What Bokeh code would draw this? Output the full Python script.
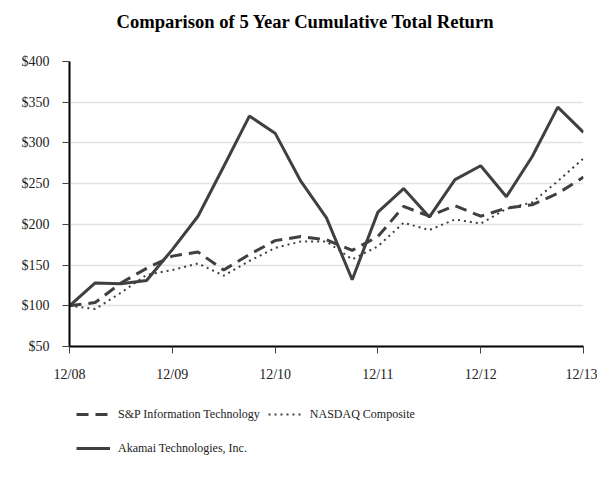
from bokeh.plotting import figure
from bokeh.layouts import column
from bokeh.models import Legend, LegendItem, FixedTicker, NumeralTickFormatter, Range1d
from bokeh.embed import file_html
from bokeh.resources import INLINE

quarters = list(range(21))
tick_positions = [0, 4, 8, 12, 16, 20]
tick_labels = ["12/08", "12/09", "12/10", "12/11", "12/12", "12/13"]

akamai = [100, 128, 127, 131, 169, 210, 271, 333, 312, 253, 208, 132, 215, 244, 209, 255, 272, 234, 283, 344, 313]
sp_it = [100, 104, 128, 146, 161, 166, 144, 163, 180, 185, 181, 168, 185, 222, 210, 223, 210, 220, 224, 238, 258]
nasdaq = [100, 96, 116, 138, 144, 152, 137, 155, 171, 179, 179, 157, 173, 202, 193, 206, 201, 219, 227, 253, 281]

series_names = ["S&P Information Technology", "NASDAQ Composite", "Akamai Technologies, Inc."]
title_text = "Comparison of 5 Year Cumulative Total Return"

FONT = "Liberation Serif"
COL = "#404040"
styles = [dict(line_width=3, line_dash="12 7"),
          dict(line_width=2, line_dash="2 4"),
          dict(line_width=3, line_dash="solid")]

# title strip
tp = figure(width=597, height=45, output_backend="svg", toolbar_location=None,
            x_axis_location=None, y_axis_location=None,
            x_range=Range1d(0, 1), y_range=Range1d(0, 1),
            min_border_left=0, min_border_right=0, min_border_top=0, min_border_bottom=0)
tp.grid.visible = False
tp.outline_line_color = None
tp.title.text = title_text
tp.title.align = "left"
tp.title.offset = 47
tp.title.text_font = FONT
tp.title.text_font_size = "18.6px"
tp.title.text_font_style = "bold"
tp.title.text_color = "black"
tp.title.standoff = 17

p = figure(width=597, height=348, output_backend="svg", toolbar_location=None,
           x_range=Range1d(0, 20), y_range=Range1d(50, 400),
           min_border_left=69, min_border_right=14, min_border_top=16, min_border_bottom=47)
p.outline_line_color = None

for vals, st in zip([sp_it, nasdaq, akamai], styles):
    p.line(quarters, vals, line_color=COL, **st)

p.xgrid.grid_line_color = None
p.ygrid.grid_line_color = "#e4e4e4"
p.ygrid.grid_line_width = 1.5
p.ygrid.ticker = FixedTicker(ticks=list(range(50, 401, 50)))

p.yaxis.ticker = FixedTicker(ticks=list(range(50, 401, 50)))
p.yaxis.formatter = NumeralTickFormatter(format="$0")
p.xaxis.ticker = FixedTicker(ticks=tick_positions)
p.xaxis.major_label_overrides = {t: l for t, l in zip(tick_positions, tick_labels)}

for ax in (p.xaxis, p.yaxis):
    ax.axis_line_color = "black"
    ax.axis_line_width = 2
    ax.major_tick_line_color = COL
    ax.major_tick_line_width = 1
    ax.minor_tick_line_color = None
    ax.major_tick_in = 0
    ax.major_tick_out = 7
    ax.major_label_text_font = FONT
    ax.major_label_text_font_size = "14px"
    ax.major_label_text_color = "#222222"
p.yaxis.major_label_standoff = 13
p.xaxis.major_label_standoff = 13

# legend strip (series drawn off-view so only the legend shows)
lp = figure(width=597, height=70, output_backend="svg", toolbar_location=None,
            x_axis_location=None, y_axis_location=None,
            x_range=Range1d(0, 20), y_range=Range1d(1000, 1001),
            min_border_left=0, min_border_right=0, min_border_top=0, min_border_bottom=0)
lp.grid.visible = False
lp.outline_line_color = None
items = []
for name, vals, st in zip(series_names, [sp_it, nasdaq, akamai], styles):
    r = lp.line(quarters, vals, line_color=COL, **st)
    items.append(LegendItem(label=name, renderers=[r]))

legend = Legend(items=items, orientation="horizontal", ncols=2, location=(7, 2))
legend.label_text_font = FONT
legend.label_text_font_size = "12px"
legend.label_text_color = "#222222"
legend.glyph_width = 34
legend.glyph_height = 26
legend.label_height = 26
legend.label_standoff = 8
legend.spacing = 8
legend.background_fill_alpha = 0
legend.border_line_color = None
legend.margin = 0
legend.padding = 0
lp.add_layout(legend, "center")

layout = column(tp, p, lp, spacing=0)
open("out.html", "w").write(file_html(layout, INLINE))
